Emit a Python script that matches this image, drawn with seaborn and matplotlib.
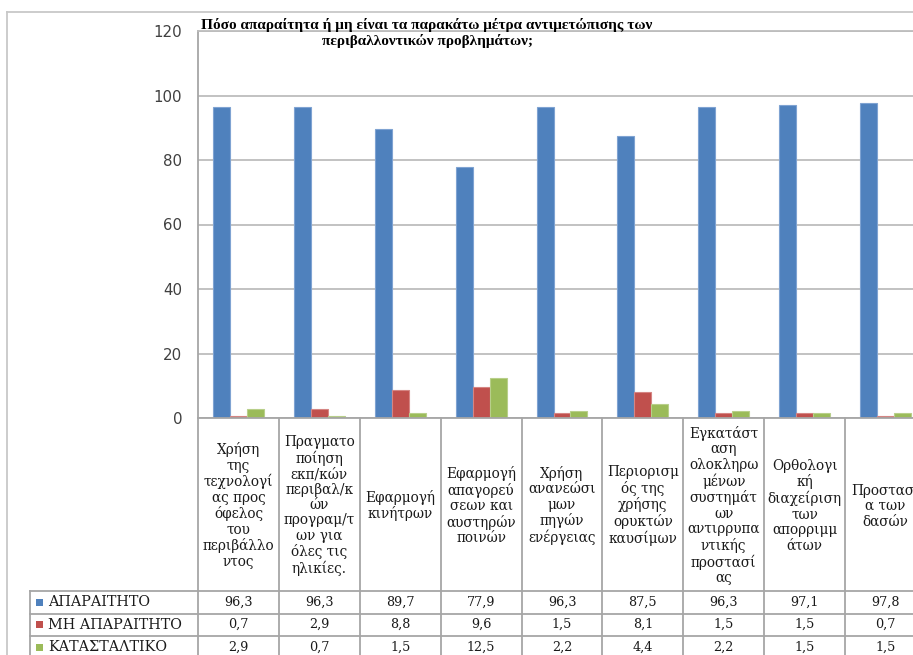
import matplotlib
matplotlib.use("Agg")
import matplotlib.pyplot as plt
import matplotlib.transforms as mtransforms
from matplotlib.lines import Line2D
from matplotlib.patches import Rectangle
import seaborn as sns
import pandas as pd

# ---- data -------------------------------------------------------------
categories = [
    "Χρήση\nτης\nτεχνολογί\nας προς\nόφελος\nτου\nπεριβάλλο\nντος",
    "Πραγματο\nποίηση\nεκπ/κών\nπεριβαλ/κ\nών\nπρογραμ/τ\nων για\nόλες τις\nηλικίες.",
    "Εφαρμογή\nκινήτρων",
    "Εφαρμογή\nαπαγορεύ\nσεων και\nαυστηρών\nποινών",
    "Χρήση\nανανεώσι\nμων\nπηγών\nενέργειας",
    "Περιορισμ\nός της\nχρήσης\nορυκτών\nκαυσίμων",
    "Εγκατάστ\nαση\nολοκληρω\nμένων\nσυστημάτ\nων\nαντιρρυπα\nντικής\nπροστασί\nας",
    "Ορθολογι\nκή\nδιαχείριση\nτων\nαπορριμμ\nάτων",
    "Προστασί\nα των\nδασών",
]
series_names = ["ΑΠΑΡΑΙΤΗΤΟ", "ΜΗ ΑΠΑΡΑΙΤΗΤΟ", "ΚΑΤΑΣΤΑΛΤΙΚΟ"]
aparaitito = [96.3, 96.3, 89.7, 77.9, 96.3, 87.5, 96.3, 97.1, 97.8]
mi_aparaitito = [0.7, 2.9, 8.8, 9.6, 1.5, 8.1, 1.5, 1.5, 0.7]
katastaltiko = [2.9, 0.7, 1.5, 12.5, 2.2, 4.4, 2.2, 1.5, 1.5]
y_ticks = [0, 20, 40, 60, 80, 100, 120]
title = ("Πόσο απαραίτητα ή μη είναι τα παρακάτω μέτρα αντιμετώπισης των\n"
         "περιβαλλοντικών προβλημάτων;")

colors = ["#4F81BD", "#C0504D", "#9BBB59"]
edge_colors = ["#7FA3D2", "#D58583", "#B8CF8A"]
grid_gray = "#BDBDBD"
line_gray = "#A6A6A6"

series_values = [aparaitito, mi_aparaitito, katastaltiko]
rows = []
for name, vals in zip(series_names, series_values):
    for cat, v in zip(categories, vals):
        rows.append({"cat": cat, "series": name, "value": v})
df = pd.DataFrame(rows)

# ---- figure -----------------------------------------------------------
W, H = 913, 655
fig = plt.figure(figsize=(W / 100, H / 100), dpi=100)
fig.patch.set_facecolor("white")

def fx(px):
    return px / W

def fy(px):
    return 1 - px / H

left_px, right_px, top_px, bottom_px = 198, 926, 31, 418
ax = fig.add_axes([fx(left_px), fy(bottom_px), fx(right_px - left_px),
                   (bottom_px - top_px) / H])

sns.barplot(data=df, x="cat", y="value", hue="series", order=categories,
            hue_order=series_names, palette=colors, width=0.63,
            saturation=1, ax=ax, legend=False, errorbar=None)

# light edges on the bars, one tint per series
for container, ec in zip(ax.containers, edge_colors):
    for bar in container:
        bar.set_edgecolor(ec)
        bar.set_linewidth(0.8)

ax.set_xlim(-0.5, len(categories) - 0.5)
ax.set_ylim(0, 120)
ax.set_yticks(y_ticks)
ax.set_yticklabels([str(t) for t in y_ticks], fontsize=10.8,
                   color="#404040", fontfamily="DejaVu Sans")
ax.tick_params(axis="y", length=0, pad=11.5)
ax.set_xticks([])
ax.set_xlabel("")
ax.set_ylabel("")
ax.yaxis.grid(True, color=grid_gray, linewidth=1.3)
ax.set_axisbelow(True)
for side in ["left", "top", "bottom", "right"]:
    ax.spines[side].set_color(line_gray if side != "top" else grid_gray)
    ax.spines[side].set_linewidth(1.3)

# ---- data table below the plot --------------------------------------
blend = mtransforms.blended_transform_factory(ax.transData, fig.transFigure)
n = len(categories)
cat_row_top, cat_row_bot = 418, 591
row_lines = [591, 613.5, 636, 658.5]

# vertical column separators
for k in range(n + 1):
    xk = k - 0.5
    ax.add_line(Line2D([xk, xk], [fy(cat_row_top), fy(H + 5)],
                       transform=blend, color=line_gray, linewidth=1.3,
                       clip_on=False))

# horizontal separators of the value rows (across legend column too)
for ry in row_lines:
    fig.add_artist(Line2D([fx(30), 1], [fy(ry), fy(ry)], color=line_gray,
                          linewidth=1.3))
fig.add_artist(Line2D([fx(30), fx(30)], [fy(row_lines[0]), 0],
                      color=line_gray, linewidth=1.3))

serif = "DejaVu Serif"
cat_center = (cat_row_top + cat_row_bot) / 2
for i, label in enumerate(categories):
    ax.text(i, fy(cat_center + 1), label, transform=blend, ha="center",
            va="center", fontsize=9.8, fontfamily=serif, color="#1a1a1a",
            linespacing=1.13, clip_on=False)

for r, (name, vals, col) in enumerate(zip(series_names, series_values, colors)):
    yc = (row_lines[r] + row_lines[r + 1]) / 2
    fig.add_artist(Rectangle((fx(36), fy(yc + 3.5)), fx(7), 7 / H,
                             facecolor=col, edgecolor="none"))
    fig.text(fx(48), fy(yc), name, ha="left", va="center", fontsize=10.4,
             fontfamily=serif, color="#1a1a1a")
    for i, v in enumerate(vals):
        ax.text(i, fy(yc), f"{v:.1f}".replace(".", ","), transform=blend,
                ha="center", va="center", fontsize=9.2, fontfamily=serif,
                color="#1a1a1a", clip_on=False)

# ---- chart border and title -----------------------------------------
fig.add_artist(Line2D([fx(7), fx(7)], [0, fy(12)], color="#C8C8C8",
                      linewidth=1.3))
fig.add_artist(Line2D([fx(7), 1], [fy(12), fy(12)], color="#C8C8C8",
                      linewidth=1.3))

fig.text(fx(427), fy(33), title, ha="center", va="center",
         fontsize=11, fontweight="bold", fontfamily="Liberation Serif",
         color="black", linespacing=1.15)

fig.savefig("out.png", dpi=100, facecolor="white")
